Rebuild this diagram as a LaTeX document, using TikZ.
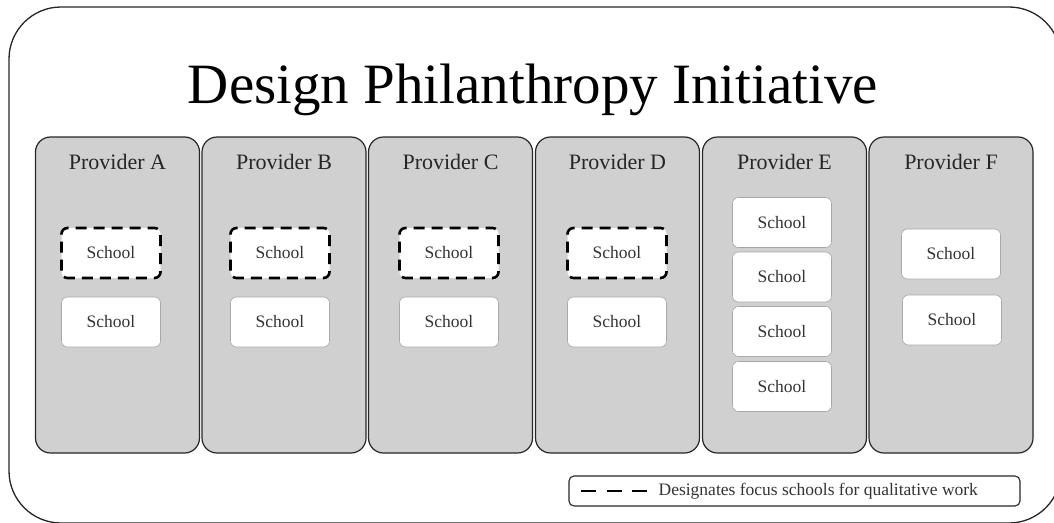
\documentclass[tikz,border=0pt]{standalone}
\usepackage{fontspec}
\setmainfont{Liberation Serif}
\definecolor{provfill}{HTML}{D0D0D0}
\definecolor{schooledge}{HTML}{A8A8A8}
\tikzset{
  provider/.style={draw=black!85, fill=provfill, line width=1.2pt, rounded corners=15pt,
    minimum width=164pt, minimum height=316pt, inner sep=0pt},
  provlabel/.style={font=\fontsize{22}{26}\selectfont, text=black!85, anchor=base},
  school/.style={draw=schooledge, fill=white, line width=0.6pt, rounded corners=6pt,
    minimum width=99pt, minimum height=50pt, inner sep=0pt, font=\fontsize{17.5}{20}\selectfont, text=black!80},
  focus/.style={school, draw=black, line width=2.6pt, dash pattern=on 11pt off 7pt, dash phase=4pt},
  frame/.style={draw=black!85, line width=1.3pt, rounded corners=52pt},
}
\begin{document}
\begin{tikzpicture}[x=1pt,y=-1pt]
\useasboundingbox (0,0) rectangle (1054,522);
\draw[frame] (9,7) rectangle (1061,523);
\node[font=\fontsize{57}{62}\selectfont, anchor=base] (title) at (533,103) {Design Philanthropy Initiative};
% providers
\foreach \n/\x/\l in {pa/117.5/A, pb/284/B, pc/450.5/C, pd/617.5/D, pe/784.5/E, pf/951/F}{
  \node[provider] (\n) at (\x,295) {};
  \node[provlabel] (\n lab) at (\x,169) {Provider \l};
}
% schools
\foreach \n/\x in {a/111, b/280, c/449, d/617}{
  \node[focus] (s\n1) at (\x,253) {School};
  \node[school] (s\n2) at (\x,322) {School};
}
\node[school] (se1) at (782,222.5) {School};
\node[school] (se2) at (782,277) {School};
\node[school] (se3) at (782,331.5) {School};
\node[school] (se4) at (782,386.5) {School};
\node[school] (sf1) at (951,254) {School};
\node[school] (sf2) at (952,320) {School};
% legend
\node[draw=black!85, line width=1.1pt, rounded corners=5pt, minimum width=451pt, minimum height=30pt, inner sep=0pt] (legend) at (794.5,491) {};
\coordinate (l1) at ([xshift=13pt]legend.west);
\coordinate (l2) at ([xshift=79pt]legend.west);
\draw[line width=2.6pt, dash pattern=on 15pt off 10.5pt] (l1) -- (l2);
\node[anchor=west, font=\fontsize{17.5}{20}\selectfont, text=black!80, inner sep=0pt] (legtext) at ([xshift=90pt]legend.west) {Designates focus schools for qualitative work};
\end{tikzpicture}
\end{document}
